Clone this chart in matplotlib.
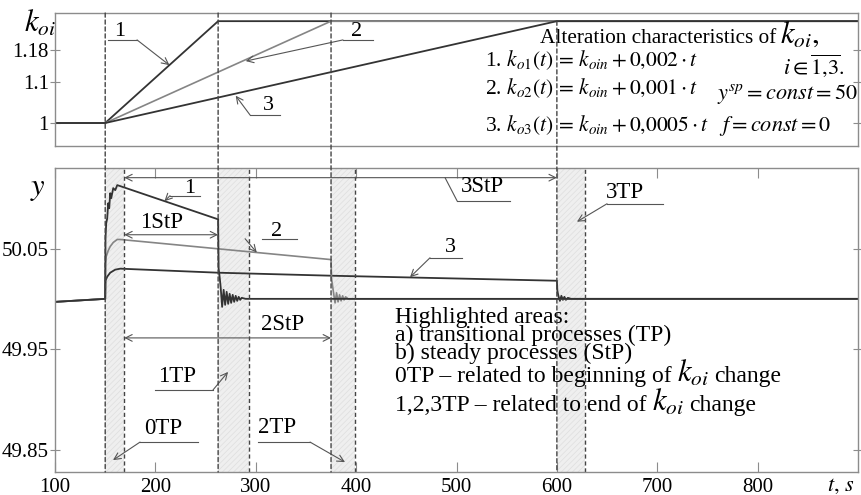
import matplotlib.pyplot as plt
import matplotlib.transforms as mtransforms
from matplotlib.patches import ConnectionPatch

plt.rcParams['font.family'] = ['Liberation Serif', 'DejaVu Serif']
plt.rcParams['mathtext.fontset'] = 'stix'
plt.rcParams['hatch.linewidth'] = 0.5

# k_oi(t) for the three rates of change
k_t1 = [100, 150, 262.5, 900]
k_1 = [1.0, 1.0, 1.25, 1.25]
k_t2 = [100, 150, 375, 900]
k_2 = [1.0, 1.0, 1.25, 1.25]
k_t3 = [100, 150, 600, 900]
k_3 = [1.0, 1.0, 1.25, 1.25]
k_ticks = [1.0, 1.1, 1.18]
k_ticklabels = ['1', '1.1', '1.18']

# output y(t) for the three cases
y1_t = [100, 150, 150.3, 151, 152, 153, 154, 155, 156, 158, 160, 162, 165,
        262.5, 263, 264, 265, 266.5, 268, 269.5, 271, 272.5, 274, 275.5, 277,
        278.5, 280, 281.5, 283, 284.5, 286, 290, 900]
y1 = [49.997, 50.0, 50.06, 50.075, 50.08, 50.095, 50.09, 50.105, 50.1, 50.11,
      50.108, 50.113, 50.112,
      50.079, 50.03, 50.022, 50.012, 49.992, 50.009, 49.994, 50.007, 49.995,
      50.005, 49.996, 50.004, 49.997, 50.003, 49.998, 50.002, 49.999, 50.001,
      50.0, 50.0]
y2_t = [100, 150, 150.3, 151, 153, 155, 158, 162, 165,
        375, 375.5, 376.5, 377.5, 379, 380.5, 382, 383.5, 385, 386.5, 388,
        389.5, 392, 900]
y2 = [49.997, 50.0, 50.035, 50.042, 50.048, 50.052, 50.056, 50.059, 50.059,
      50.039, 50.02, 50.013, 50.006, 49.996, 50.006, 49.997, 50.004, 49.998,
      50.003, 49.999, 50.002, 50.0, 50.0]
y3_t = [100, 150, 150.3, 152, 155, 160, 165, 262, 375, 600, 600.5, 601.5, 603,
        604.5, 606, 607.5, 609, 611, 614, 900]
y3 = [49.997, 50.0, 50.018, 50.022, 50.026, 50.029, 50.030, 50.026, 50.023,
      50.018, 50.008, 50.003, 49.998, 50.003, 49.999, 50.002, 49.999, 50.001,
      50.0, 50.0]
y_ticks = [49.85, 49.95, 50.05]
y_ticklabels = ['49.85', '49.95', '50.05']
t_ticks = [100, 200, 300, 400, 500, 600, 700, 800]

# transitional process windows (TP) and the moments k_oi starts/stops changing
tp_spans = [(150, 169), (262.5, 293), (375, 399), (600, 628)]
change_times = [150, 262.5, 375, 600]
tp_end_times = [169, 293, 399, 628]

dark = '#333333'
grey = '#858585'
frame = '#8c8c8c'
ink = '#555555'

fig = plt.figure(figsize=(8.61, 4.95), dpi=100)
ax1 = fig.add_axes([0.0639, 0.705, 0.9326, 0.2687])
ax2 = fig.add_axes([0.0639, 0.0465, 0.9326, 0.6141])

for ax in (ax1, ax2):
    ax.set_xlim(100, 900)
    for s in ax.spines.values():
        s.set_color(frame)
        s.set_linewidth(1.0)

# --- top: k_oi(t)
ax1.set_ylim(0.9435, 1.270)
ax1.plot(k_t1, k_1, color=dark, lw=1.3)
ax1.plot(k_t2, k_2, color=grey, lw=1.2)
ax1.plot(k_t3, k_3, color=dark, lw=1.3)
ax1.set_xticks([])
ax1.set_yticks(k_ticks, k_ticklabels)
ax1.tick_params(axis='y', direction='inout', length=7, width=0.8, color=frame,
                right=True, labelsize=15, pad=1)

# --- bottom: y(t)
ax2.set_ylim(49.828, 50.130)
for a, b in tp_spans:
    ax2.axvspan(a, b, facecolor='#efefef', hatch='//////', edgecolor='#dedede',
                lw=0, zorder=0)
ax2.plot(y3_t, y3, color=dark, lw=1.3)
ax2.plot(y2_t, y2, color=grey, lw=1.2)
ax2.plot(y1_t, y1, color=dark, lw=1.3)

ax2.set_xticks(t_ticks, [str(t) for t in t_ticks])
ax2.set_yticks(y_ticks, y_ticklabels)
ax2.tick_params(axis='x', direction='in', length=7, width=0.8, color=frame,
                top=True, labelsize=15, pad=4)
ax2.tick_params(axis='y', direction='inout', length=7, width=0.8, color=frame,
                right=True, labelsize=15, pad=1)

# dashed markers: change moments run through both panels
for t in change_times:
    top = k_3[2] if t == k_t3[2] else ax1.get_ylim()[1]
    con = ConnectionPatch(xyA=(t, top), coordsA='data', axesA=ax1,
                          xyB=(t, ax2.get_ylim()[0]), coordsB='data', axesB=ax2,
                          linestyle=(0, (3, 2)), color='#444444', lw=1.0)
    fig.add_artist(con)
for t in tp_end_times:
    ax2.axvline(t, linestyle=(0, (3, 2)), color='#444444', lw=1.0)

arrow = dict(arrowstyle='->', color=ink, lw=0.8, shrinkA=0, shrinkB=0,
             mutation_scale=12)
span_arrow = dict(arrowstyle='<->', color=ink, lw=0.8, shrinkA=0, shrinkB=0,
                  mutation_scale=12)


def callout(ax, label, text_xy, line_x, line_y, start, tip, fs=16):
    ax.text(text_xy[0], text_xy[1], label, ha='center', va='center', fontsize=fs)
    ax.plot(line_x, [line_y, line_y], color=ink, lw=0.8)
    ax.annotate('', xy=tip, xytext=start, arrowprops=arrow)


fig.canvas.draw()
renderer = fig.canvas.get_renderer()


def text_run(ax, x, y, pieces, gap=5):
    # pieces of different size placed one after another on a common baseline
    dx = 0
    for s, fs in pieces:
        tr = mtransforms.offset_copy(ax.transData, fig=fig, x=dx, y=0, units='dots')
        t = ax.text(x, y, s, fontsize=fs, va='baseline', transform=tr)
        dx += t.get_window_extent(renderer).width + gap


callout(ax1, '1', (164.8, 1.2236), [152.8, 181.7], 1.204, (181.7, 1.204), (214, 1.142))
callout(ax1, '2', (400.9, 1.2236), [386.9, 416.8], 1.204, (386.9, 1.204), (290, 1.152))
callout(ax1, '3', (312.2, 1.044), [294.3, 324.2], 1.0197, (294.3, 1.0197), (280, 1.067))

text_run(ax1, 583, 1.196, [('Alteration characteristics of', 15.3),
                           (r'$k_{oi},$', 22)], gap=4)
ax1.text(887, 1.121, r'$i\in\overline{1{,}3}.$', fontsize=16, va='baseline', ha='right')
ax1.text(528, 1.139, r'1. $k_{o1}(t)\,=\,k_{oin}+0{,}002\cdot t$', fontsize=15.5, va='baseline')
ax1.text(528, 1.071, r'2. $k_{o2}(t)\,=\,k_{oin}+0{,}001\cdot t$', fontsize=15.5, va='baseline')
ax1.text(528, 0.980, r'3. $k_{o3}(t)\,=\,k_{oin}+0{,}0005\cdot t$', fontsize=15.5, va='baseline')
ax1.text(760, 1.059, r'$y^{sp}=const=50$', fontsize=16, va='baseline')
ax1.text(762, 0.980, r'$f=const=0$', fontsize=16, va='baseline')

ax2.annotate('', xy=(169, 50.1204), xytext=(600, 50.1204), arrowprops=span_arrow)
ax2.annotate('', xy=(169, 50.0637), xytext=(262.5, 50.0637), arrowprops=span_arrow)
ax2.annotate('', xy=(169, 49.9612), xytext=(375, 49.9612), arrowprops=span_arrow)
ax2.text(206.6, 50.0756, '1StP', ha='center', va='center', fontsize=16.5)
ax2.text(327.2, 49.9741, '2StP', ha='center', va='center', fontsize=16.5)
ax2.text(525.4, 50.1114, '3StP', ha='center', va='center', fontsize=16.5)
ax2.plot([500.5, 553.3], [50.0975, 50.0975], color=ink, lw=0.8)
ax2.plot([488.6, 500.5], [50.1204, 50.0975], color=ink, lw=0.8)

callout(ax2, '1', (234.5, 50.1095), [214.6, 244.5], 50.1025, (214.6, 50.1025), (209, 50.097))
callout(ax2, '2', (321.2, 50.0667), [306.2, 341.1], 50.0597, (289.4, 50.0597), (301, 50.046))
callout(ax2, '3', (493.5, 50.0507), [473.6, 505.5], 50.0408, (473.6, 50.0408), (453.7, 50.0215))
callout(ax2, '3TP', (667.9, 50.1055), [650, 705.7], 50.0945, (650, 50.0945), (620, 50.0766), fs=16.5)
callout(ax2, '1TP', (221.5, 49.9224), [199.6, 257.4], 49.9095, (257.4, 49.9095), (272.4, 49.9274), fs=16.5)
callout(ax2, '0TP', (207.6, 49.8716), [184.7, 242.5], 49.8577, (184.7, 49.8577), (157.8, 49.8398), fs=16.5)
callout(ax2, '2TP', (321.2, 49.8726), [302.2, 354.1], 49.8577, (354.1, 49.8577), (388.9, 49.8378), fs=16.5)

ax2.text(439, 49.9405, 'Highlighted areas:\na) transitional processes (TP)\n'
         'b) steady processes (StP)', fontsize=17, va='baseline', linespacing=0.78)
text_run(ax2, 439, 49.9174, [('0TP – related to beginning of', 17),
                             (r'$k_{oi}$', 22), ('change', 17)])
text_run(ax2, 439, 49.8886, [('1,2,3TP – related to end of', 17),
                             (r'$k_{oi}$', 22), ('change', 17)])

fig.text(0.0465, 0.952, r'$k_{oi}$', fontsize=22, ha='center', va='center')
fig.text(0.0441, 0.620, r'$y$', fontsize=22, ha='center', va='center')
fig.text(0.977, 0.0162, r'$t,\,s$', fontsize=16, ha='center', va='center')

fig.savefig('out.png', dpi=100)
